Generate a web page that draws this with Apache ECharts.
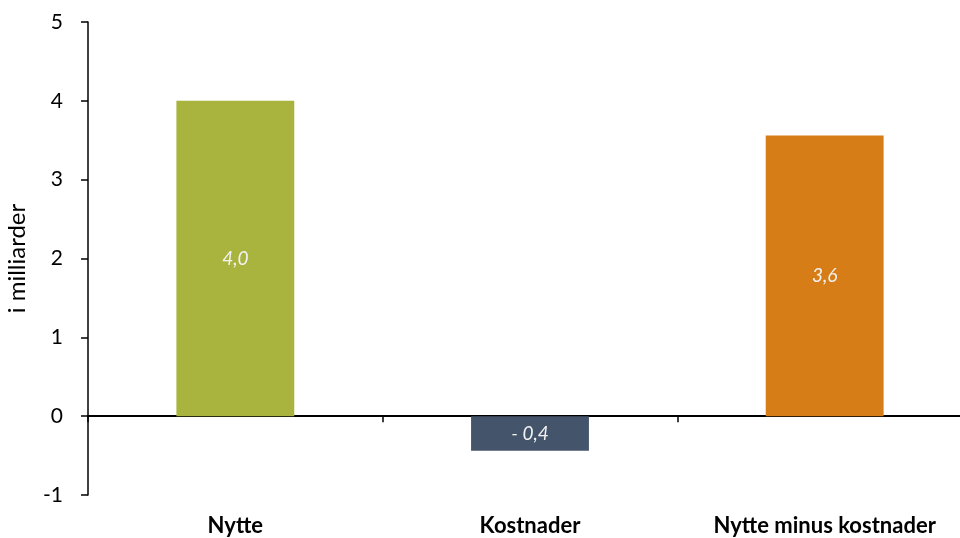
<!DOCTYPE html>
<html>
<head>
<meta charset="utf-8">
<script src="https://cdn.jsdelivr.net/npm/echarts@6/dist/echarts.min.js"></script>
<style>
  html, body { margin: 0; padding: 0; background: #fff; }
  #chart { width: 960px; height: 538px; }
</style>
</head>
<body>
<div id="chart"></div>
<script>
// kategorier og verdier (milliarder)
var categories = ["Nytte", "Kostnader", "Nytte minus kostnader"];
var values = [4.0, -0.44, 3.56];
var barColors = ["#A9B43F", "#44546A", "#D67D17"];
var yTicks = { min: -1, max: 5, interval: 1 };
var yName = "i milliarder";

var fontFamily = "Lato, 'Open Sans', sans-serif";

function fmtLabel(v) {
	var s = Math.abs(v).toFixed(1).replace(".", ",");
	return v < 0 ? "- " + s : s;
}

var chart = echarts.init(document.getElementById("chart"));
chart.setOption({
	animation: false,
	grid: { left: 88, width: 884, top: 22, bottom: 43, containLabel: false, outerBoundsMode: "none" },
	xAxis: [{
		type: "category",
		data: categories,
		position: "bottom",
		axisLine: { onZero: true, lineStyle: { color: "#000", width: 2 } },
		axisTick: { show: true, inside: false, length: 6, alignWithLabel: false, lineStyle: { color: "#000", width: 1.5 } },
		axisLabel: { show: false },
		splitLine: { show: false }
	}, {
		type: "category",
		data: categories,
		position: "bottom",
		offset: 0,
		axisLine: { show: false, onZero: false },
		axisTick: { show: false },
		axisLabel: { show: true, margin: 20, color: "#000", fontFamily: fontFamily, fontWeight: "bold", fontSize: 22 },
		splitLine: { show: false }
	}],
	yAxis: {
		type: "value",
		min: yTicks.min,
		max: yTicks.max,
		interval: yTicks.interval,
		name: yName,
		nameLocation: "middle",
		nameGap: 59,
		nameTextStyle: { color: "#000", fontFamily: fontFamily, fontSize: 24 },
		axisLine: { show: true, lineStyle: { color: "#000", width: 1.5 } },
		axisTick: { show: true, length: 7, lineStyle: { color: "#000", width: 1.5 } },
		axisLabel: { color: "#000", fontFamily: fontFamily, fontSize: 21, margin: 25 },
		splitLine: { show: false }
	},
	series: [{
		type: "bar",
		xAxisIndex: 0,
		barWidth: "40%",
		data: values.map(function(v, i) {
			return { value: v, itemStyle: { color: barColors[i] } };
		}),
		label: {
			show: true,
			position: "inside",
			color: "#F2F2F2",
			fontFamily: fontFamily,
			fontStyle: "italic",
			fontSize: 19,
			formatter: function(p) { return fmtLabel(p.value); }
		}
	}]
});
</script>
</body>
</html>
